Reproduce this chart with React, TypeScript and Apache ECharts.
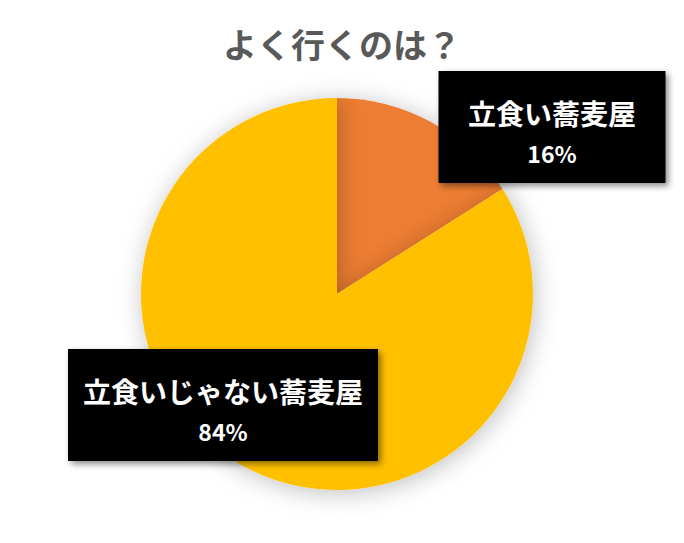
import React, { useEffect, useRef } from "react";
import * as echarts from "echarts";

const titleText = "よく行くのは？";
const categories = ["立食い蕎麦屋", "立食いじゃない蕎麦屋"];
const values = [16, 84];
const colors = ["#ED7D31", "#FFC000"];

const labelBoxWidths = [227, 310];
const labelCenters = [
  [552, 127],
  [223, 405],
];

export default function App() {
  const ref = useRef<HTMLDivElement>(null);
  useEffect(() => {
    const chart = echarts.init(ref.current!, undefined, { renderer: "svg" });
    const font = '"Noto Sans CJK JP", "Noto Sans", sans-serif';
    chart.setOption({
      animation: false,
      backgroundColor: "#ffffff",
      title: {
        text: titleText,
        left: "center",
        top: 23,
        padding: 0,
        textStyle: {
          color: "#595959",
          fontSize: 34,
          fontWeight: "bold",
          fontFamily: font,
          lineHeight: 40,
        },
      },
      series: [
        {
          type: "pie",
          center: [337, 294],
          radius: 196,
          startAngle: 90,
          clockwise: true,
          silent: true,
          itemStyle: {
            shadowBlur: 24,
            shadowColor: "rgba(0,0,0,0.25)",
            shadowOffsetX: 2,
            shadowOffsetY: 3,
          },
          labelLine: { show: false },
          label: {
            show: true,
            position: "outside",
            formatter: (p: any) => `{a|${p.name}}\n{b|${Math.round(p.percent)}%}`,
            backgroundColor: "#000000",
            align: "center",
            verticalAlign: "middle",
            padding: [22, 0, 10, 0],
            shadowBlur: 6,
            shadowColor: "rgba(0,0,0,0.45)",
            shadowOffsetX: 3,
            shadowOffsetY: 3,
            rich: {
              a: {
                color: "#ffffff",
                fontSize: 28,
                fontWeight: "bold",
                fontFamily: font,
                lineHeight: 40,
                align: "center",
              },
              b: {
                color: "#ffffff",
                fontSize: 23,
                fontWeight: "bold",
                fontFamily: font,
                lineHeight: 40,
                align: "center",
              },
            },
          },
          labelLayout: (params: any) => ({
            x: labelCenters[params.dataIndex][0],
            y: labelCenters[params.dataIndex][1],
            align: "center",
            verticalAlign: "middle",
            hideOverlap: false,
          }),
          data: categories.map((name, i) => ({
            name,
            value: values[i],
            itemStyle: { color: colors[i] },
            label: { width: labelBoxWidths[i] },
          })),
        },
      ],
    });
    return () => chart.dispose();
  }, []);
  return (
    <div
      ref={ref}
      style={{ position: "fixed", left: 0, top: 0, width: 684, height: 543 }}
    />
  );
}
